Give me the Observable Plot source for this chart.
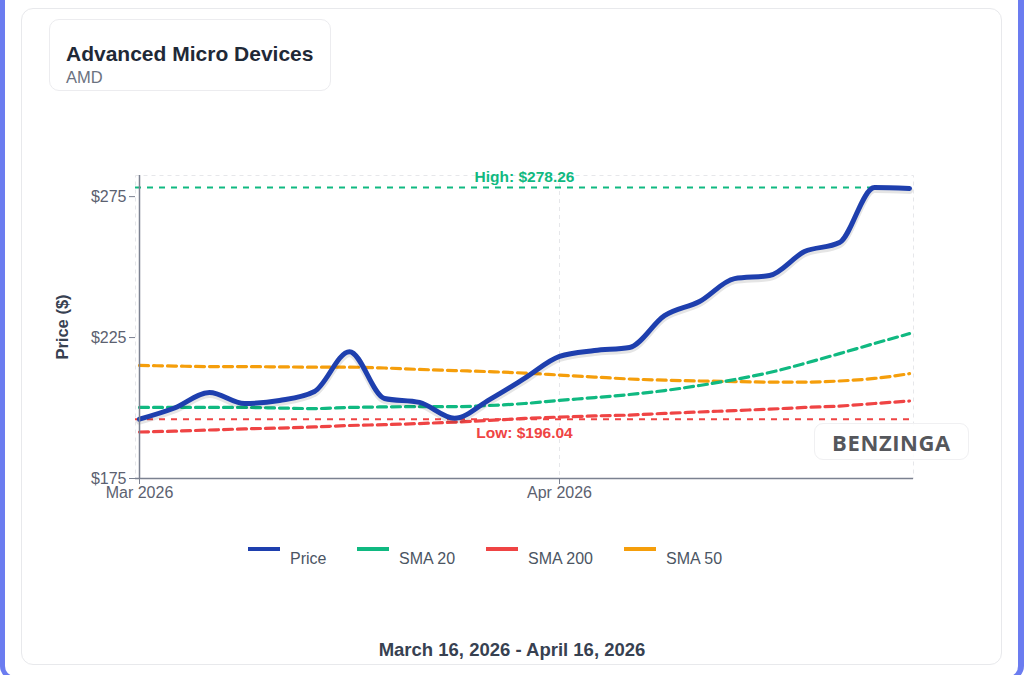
<!DOCTYPE html>
<html>
<head>
<meta charset="utf-8">
<script src="https://cdn.jsdelivr.net/npm/d3@7"></script>
<script src="https://cdn.jsdelivr.net/npm/@observablehq/plot@0.6"></script>
<style>
  html, body { margin: 0; padding: 0; width: 1024px; height: 675px; overflow: hidden; background: #fff; font-family: "Liberation Sans", Arial, sans-serif; }
  #frame { position: absolute; left: 0; top: -20px; width: 1024px; height: 700px; box-sizing: border-box; border-left: 5px solid #6b7cf0; border-right: 6px solid #6b7cf0; border-bottom: 4px solid #6b7cf0; border-radius: 0 0 14px 14px; }
  #card { position: absolute; left: 21px; top: 8px; width: 981px; height: 657px; box-sizing: border-box; border: 1.5px solid #e8e9ec; border-radius: 12px; background: #fff; }
  #titlebox { position: absolute; left: 49px; top: 19px; width: 282px; height: 72px; box-sizing: border-box; border: 1px solid #ececef; border-radius: 10px; background: #fff; }
  #title { position: absolute; left: 66px; top: 42px; font-size: 21px; font-weight: 700; color: #1f2937; white-space: nowrap; }
  #subtitle { position: absolute; left: 66px; top: 68px; font-size: 16.5px; color: #6b7280; }
  #chart { position: absolute; left: 0; top: 130px; }
  #legend { position: absolute; left: 0; top: 540px; width: 1024px; font-size: 16px; color: #4b5563; }
  .sw { position: absolute; top: 7px; width: 32px; height: 4px; }
  .lab { position: absolute; top: 10px; white-space: nowrap; }
  #caption { position: absolute; left: 0; width: 1024px; top: 639px; text-align: center; font-size: 18.5px; font-weight: 700; color: #374151; }
  #logo { position: absolute; left: 814px; top: 423px; width: 155px; height: 37px; box-sizing: border-box; border: 1px solid #f0f0f2; border-radius: 9px; background: rgba(255,255,255,0.85); text-align: center; line-height: 36px; font-family: "Open Sans", "Liberation Sans", sans-serif; font-weight: 700; font-size: 22px; color: #55575c; letter-spacing: 0.6px; }
</style>
</head>
<body>
<div id="frame"></div>
<div id="card"></div>
<div id="titlebox"></div>
<div id="title">Advanced Micro Devices</div>
<div id="subtitle">AMD</div>
<div id="chart"></div>
<div id="legend"></div>
<div id="logo">BENZINGA</div>
<div id="caption">March 16, 2026 - April 16, 2026</div>
<script>
// ---- data ----
const dates = ["2026-03-16","2026-03-17","2026-03-18","2026-03-19","2026-03-20","2026-03-23","2026-03-24","2026-03-25","2026-03-26","2026-03-27","2026-03-30","2026-03-31","2026-04-01","2026-04-02","2026-04-06","2026-04-07","2026-04-08","2026-04-09","2026-04-10","2026-04-13","2026-04-14","2026-04-15","2026-04-16"];
const price  = [196.04,200.0,205.5,201.6,202.7,205.9,220.0,203.4,202.0,196.4,203.0,210.5,218.3,220.4,221.5,232.8,237.8,245.9,247.0,255.5,258.7,278.26,277.9];
const sma20  = [200.2,200.2,200.2,200.2,200.0,199.8,200.2,200.4,200.5,200.5,200.9,201.6,202.7,203.7,204.8,206.2,208.0,210.1,212.6,215.8,219.3,222.9,226.4];
const sma50  = [215.1,214.9,214.7,214.7,214.6,214.5,214.5,214.2,213.7,213.3,212.9,212.4,211.7,211.0,210.3,209.9,209.6,209.4,209.2,209.2,209.6,210.5,212.2];
const sma200 = [191.5,191.8,192.2,192.6,192.9,193.3,193.8,194.1,194.5,195.0,195.6,196.3,196.8,197.2,197.5,198.1,198.6,199.1,199.6,200.2,200.7,201.6,202.5];
const high = 278.26, low = 196.04;
const yTicks = [175, 225, 275];
const xTickDates = ["2026-03-16", "2026-04-01"];
const xTickLabels = ["Mar 2026", "Apr 2026"];
const seriesNames = ["Price", "SMA 20", "SMA 200", "SMA 50"];
const seriesColors = ["#1e3fae", "#10b981", "#ef4444", "#f59e0b"];

// ---- build ----
const rows = dates.map((d, i) => ({date: d, price: price[i], sma20: sma20[i], sma50: sma50[i], sma200: sma200[i]}));
const mid = dates[Math.floor(dates.length / 2)];
const axisColor = "#7b8190";
const tickColor = "#5b6170";

const chart = Plot.plot({
  width: 1024,
  height: 400,
  marginLeft: 135,
  marginRight: 111,
  marginTop: 45,
  marginBottom: 52,
  style: {fontFamily: "Liberation Sans, Arial, sans-serif", fontSize: "16px", color: tickColor, background: "transparent"},
  x: {type: "point", domain: dates, padding: 0, axis: null},
  y: {domain: [175, 282.5], axis: null},
  marks: [
    Plot.frame({stroke: "#e6e7ea", strokeDasharray: "4,4", strokeWidth: 1}),
    Plot.ruleX([xTickDates[1]], {stroke: "#e6e7ea", strokeDasharray: "4,4", strokeWidth: 1}),
    // reference lines
    Plot.ruleY([high], {stroke: "#10b981", strokeWidth: 2, strokeDasharray: "6,6"}),
    Plot.ruleY([low], {stroke: "#ef4444", strokeWidth: 2, strokeDasharray: "6,6"}),
    // SMAs
    Plot.line(rows, {x: "date", y: "sma200", stroke: seriesColors[2], strokeWidth: 3.2, strokeDasharray: "9,5", curve: "monotone-x"}),
    Plot.line(rows, {x: "date", y: "sma50", stroke: seriesColors[3], strokeWidth: 3.2, strokeDasharray: "9,5", curve: "monotone-x"}),
    Plot.line(rows, {x: "date", y: "sma20", stroke: seriesColors[1], strokeWidth: 3.2, strokeDasharray: "9,5", curve: "monotone-x"}),
    // price with soft shadow
    Plot.line(rows, {x: "date", y: "price", stroke: "#000", strokeOpacity: 0.1, strokeWidth: 7, dy: 2, curve: "monotone-x"}),
    Plot.line(rows, {x: "date", y: "price", stroke: seriesColors[0], strokeWidth: 5, curve: "monotone-x"}),
    // labels
    Plot.text([high], {x: () => mid, y: d => d, text: d => "High: $" + d.toFixed(2), dy: -10, fill: "#10b981", fontWeight: 700, fontSize: 15.5}),
    Plot.text([low], {x: () => mid, y: d => d, text: d => "Low: $" + d.toFixed(2), dy: 14, fill: "#ef4444", fontWeight: 700, fontSize: 15.5}),
    // axes
    Plot.ruleX([dates[0]], {stroke: axisColor, strokeWidth: 1.5}),
    Plot.ruleY([175], {stroke: axisColor, strokeWidth: 1.5}),
    Plot.axisY({ticks: yTicks, tickFormat: d => "$" + d, tickSize: 6, tickPadding: 3, stroke: axisColor, fill: tickColor, fontSize: 16, label: null}),
    Plot.axisX({ticks: xTickDates, tickFormat: d => xTickLabels[xTickDates.indexOf(d)], tickSize: 6, tickPadding: 2, stroke: axisColor, fill: tickColor, fontSize: 16, label: null}),
    Plot.text(["Price ($)"], {frameAnchor: "left", textAnchor: "middle", dx: -73, rotate: -90, fontWeight: 700, fontSize: 16.5, fill: "#374151", text: d => d})
  ]
});
document.getElementById("chart").appendChild(chart);

// legend
const legend = document.getElementById("legend");
const swX = [248, 357, 486, 624];
seriesNames.forEach((name, i) => {
  const sw = document.createElement("div");
  sw.className = "sw";
  sw.style.left = swX[i] + "px";
  sw.style.background = seriesColors[i];
  legend.appendChild(sw);
  const lab = document.createElement("div");
  lab.className = "lab";
  lab.style.left = (swX[i] + 42) + "px";
  lab.textContent = name;
  legend.appendChild(lab);
});
</script>
</body>
</html>
